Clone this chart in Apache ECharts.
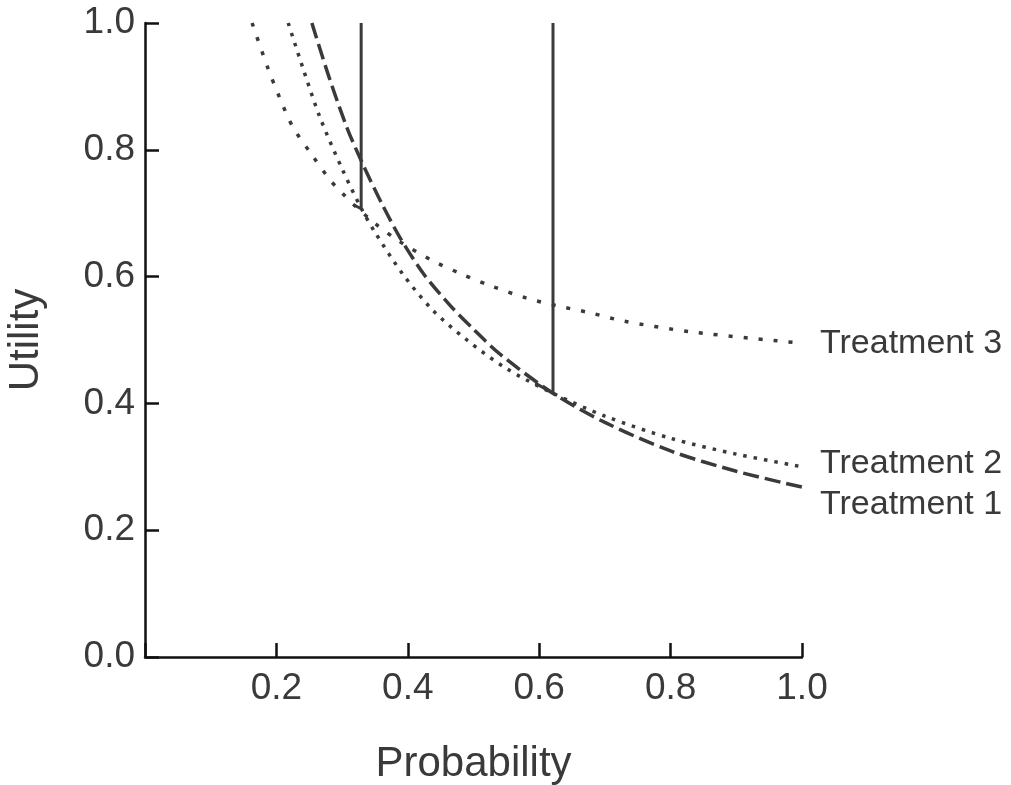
<!DOCTYPE html>
<html>
<head>
<meta charset="utf-8">
<script src="https://cdn.jsdelivr.net/npm/echarts@6/dist/echarts.min.js"></script>
<style>
  html, body { margin: 0; padding: 0; background: #fff; }
  #chart { width: 1011px; height: 785px; }
</style>
</head>
<body>
<div id="chart"></div>
<script>
// values
const t1Prob = [0.254, 0.28, 0.307, 0.329, 0.36, 0.389, 0.425, 0.464, 0.5, 0.54, 0.621, 0.7, 0.8, 0.9, 1.0]
const t1Util = [1.0, 0.915, 0.836, 0.783, 0.716, 0.66, 0.603, 0.555, 0.517, 0.478, 0.416, 0.37, 0.325, 0.293, 0.268]

const t2Prob = [0.218, 0.24, 0.266, 0.3, 0.329, 0.35, 0.393, 0.438, 0.49, 0.55, 0.621, 0.7, 0.8, 0.9, 1.0]
const t2Util = [1.0, 0.93, 0.852, 0.77, 0.708, 0.67, 0.603, 0.547, 0.5, 0.455, 0.416, 0.38, 0.345, 0.32, 0.3]

const t3Prob = [0.163, 0.187, 0.205, 0.225, 0.254, 0.282, 0.3, 0.317, 0.35, 0.385, 0.438, 0.484, 0.53, 0.581, 0.627, 0.677, 0.728, 0.83, 1.0]
const t3Util = [1.0, 0.929, 0.882, 0.836, 0.792, 0.752, 0.732, 0.714, 0.684, 0.657, 0.625, 0.603, 0.584, 0.566, 0.554, 0.543, 0.53, 0.513, 0.495]

// threshold markers (tail along curve, then straight up)
const thresh1 = [[0.318, 0.713], [0.329, 0.707], [0.329, 1.0]]
const thresh2 = [[0.594, 0.432], [0.621, 0.416], [0.621, 1.0]]

const xTicks = [0.2, 0.4, 0.6, 0.8, 1.0]
const yTicks = [0.0, 0.2, 0.4, 0.6, 0.8, 1.0]

const pairs = (xs, ys) => xs.map((x, i) => [x, ys[i]])

const ink = '#3a3a3a'
const font = 'Liberation Sans, Arial, Helvetica, sans-serif'

const chart = echarts.init(document.getElementById('chart'))

const axisCommon = {
  min: 0,
  max: 1,
  interval: 0.2,
  nameLocation: 'middle',
  nameTextStyle: { fontFamily: font, fontSize: 42, color: ink },
  axisLine: { show: true, lineStyle: { color: '#111', width: 2.5 } },
  axisTick: { show: true, inside: true, length: 14, lineStyle: { color: '#111', width: 2.5 } },
  splitLine: { show: false },
  axisLabel: { fontFamily: font, fontSize: 37, color: ink }
}

const endLabel = (dy) => ({
  show: true,
  formatter: '{a}',
  distance: 18,
  offset: [0, dy],
  fontFamily: font,
  fontSize: 34,
  color: ink
})

const option = {
  animation: false,
  grid: { left: 145, right: 209, top: 23, bottom: 128, outerBoundsMode: 'none' },
  xAxis: Object.assign({}, axisCommon, {
    type: 'value',
    name: 'Probability',
    nameGap: 86,
    axisLabel: Object.assign({}, axisCommon.axisLabel, {
      margin: 13,
      formatter: v => (xTicks.some(t => Math.abs(t - v) < 1e-9) ? v.toFixed(1) : '')
    })
  }),
  yAxis: Object.assign({}, axisCommon, {
    type: 'value',
    name: 'Utility',
    nameGap: 98,
    axisLabel: Object.assign({}, axisCommon.axisLabel, {
      margin: 10,
      formatter: v => (yTicks.some(t => Math.abs(t - v) < 1e-9) ? v.toFixed(1) : '')
    })
  }),
  series: [
    {
      name: 'Treatment 1',
      type: 'line',
      data: pairs(t1Prob, t1Util),
      smooth: 0.3,
      showSymbol: false,
      lineStyle: { color: ink, width: 3.5, type: [16, 6] },
      endLabel: endLabel(18)
    },
    {
      name: 'Treatment 2',
      type: 'line',
      data: pairs(t2Prob, t2Util),
      smooth: 0.3,
      showSymbol: false,
      lineStyle: { color: ink, width: 3.5, type: [3.5, 7] },
      endLabel: endLabel(-3)
    },
    {
      name: 'Treatment 3',
      type: 'line',
      data: pairs(t3Prob, t3Util),
      smooth: 0.3,
      showSymbol: false,
      lineStyle: { color: ink, width: 3.5, type: [4, 11] },
      endLabel: endLabel(0)
    },
    {
      name: 'threshold 1',
      type: 'line',
      data: thresh1,
      showSymbol: false,
      lineStyle: { color: ink, width: 3 }
    },
    {
      name: 'threshold 2',
      type: 'line',
      data: thresh2,
      showSymbol: false,
      lineStyle: { color: ink, width: 3 }
    }
  ]
}

chart.setOption(option)
</script>
</body>
</html>
